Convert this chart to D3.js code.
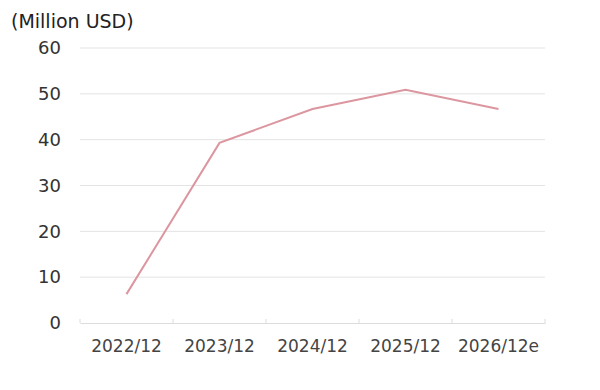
<!DOCTYPE html>
<html>
<head>
<meta charset="utf-8">
<script src="https://cdn.jsdelivr.net/npm/d3@7"></script>
<style>
  body { margin: 0; background: #fff; }
  svg text { font-family: "DejaVu Sans", Verdana, sans-serif; fill: #333; }
</style>
</head>
<body>
<svg id="chart" width="600" height="390"></svg>
<script>
'use strict';

var categories = ["2022/12", "2023/12", "2024/12", "2025/12", "2026/12e"];
var values     = [6.3, 39.3, 46.7, 50.9, 46.7];
var yTicks     = [0, 10, 20, 30, 40, 50, 60];
var unitLabel  = "(Million USD)";

var margin = {top: 48, right: 55, bottom: 67, left: 80},
    width  = 600 - margin.left - margin.right,
    height = 390 - margin.top - margin.bottom;

var svg = d3.select("#chart");
var g = svg.append("g")
    .attr("transform", "translate(" + margin.left + "," + margin.top + ")");

var x = d3.scaleBand().domain(categories).range([0, width]);
var y = d3.scaleLinear().domain([0, 60]).range([height, 0]);

// grid lines
g.selectAll("line.grid")
    .data(yTicks.slice(1))
    .enter().append("line")
        .attr("class", "grid")
        .attr("x1", 0).attr("x2", width)
        .attr("y1", function(d){ return y(d); })
        .attr("y2", function(d){ return y(d); })
        .style("stroke", "#e3e3e3")
        .style("stroke-width", 1);

// y axis labels
var yAxis = d3.axisLeft(y).tickValues(yTicks).tickSize(0).tickPadding(19);
var ya = g.append("g").call(yAxis);
ya.select(".domain").remove();
ya.selectAll("text").style("font-size", "18px").style("fill", "#333");

// x axis
var xAxis = d3.axisBottom(x).tickSize(0).tickPadding(17);
var xa = g.append("g")
    .attr("transform", "translate(0," + height + ")")
    .call(xAxis);
xa.select(".domain").style("stroke", "#dcdcdc");
xa.selectAll("text").style("font-size", "17px").style("fill", "#444");

// small boundary ticks
var bounds = categories.map(function(c){ return x(c); }).concat([width]);
xa.selectAll("line.bnd")
    .data(bounds)
    .enter().append("line")
        .attr("class", "bnd")
        .attr("x1", function(d){ return d; })
        .attr("x2", function(d){ return d; })
        .attr("y1", -4).attr("y2", 0)
        .style("stroke", "#dcdcdc");

// unit label
svg.append("text")
    .attr("x", 11).attr("y", 28)
    .style("font-size", "19px")
    .style("fill", "#222")
    .text(unitLabel);

// line
var line = d3.line()
    .x(function(d, i){ return x(categories[i]) + x.bandwidth() / 2; })
    .y(function(d){ return y(d); });

g.append("path")
    .datum(values)
    .attr("d", line)
    .style("fill", "none")
    .style("stroke", "#dc96a0")
    .style("stroke-width", 2);
</script>
</body>
</html>
